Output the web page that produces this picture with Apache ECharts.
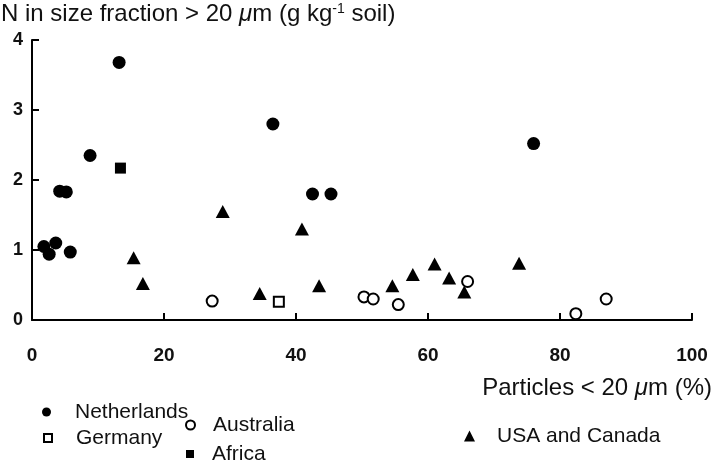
<!DOCTYPE html>
<html><head><meta charset="utf-8">
<script src="https://cdn.jsdelivr.net/npm/echarts@6/dist/echarts.min.js"></script>
<style>html,body{margin:0;padding:0;background:#fff}#c{width:720px;height:468px}</style>
</head><body><div id="c"></div>
<script>
// x: particles < 20 um (%), y: N in size fraction > 20 um (g/kg soil)
const netherlands = [[1.8,1.05],[2.6,0.94],[3.6,1.10],[4.2,1.84],[5.2,1.83],[5.8,0.97],[8.8,2.35],[13.2,3.68],[36.5,2.80],[42.5,1.80],[45.3,1.80],[76.0,2.52]];
const germany = [[37.4,0.26]];
const australia = [[27.3,0.27],[50.3,0.33],[51.7,0.30],[55.5,0.22],[66.0,0.55],[82.4,0.09],[87.0,0.30]];
const africa = [[13.4,2.17]];
const usaCanada = [[15.4,0.89],[16.8,0.52],[28.9,1.55],[34.5,0.38],[40.9,1.30],[43.5,0.49],[54.6,0.49],[57.7,0.65],[61.0,0.80],[63.2,0.60],[65.5,0.40],[73.8,0.81]];
const xTicks = [0,20,40,60,80,100];
const yTicks = [0,1,2,3,4];
const seriesNames = ['Netherlands','Germany','Australia','Africa','USA and Canada'];

const FONT = '"Liberation Sans", Arial, Helvetica, sans-serif';
const chart = echarts.init(document.getElementById('c'));
const axisCommon = {
  type:'value', splitLine:{show:false},
  axisLine:{show:true,onZero:false,lineStyle:{color:'#000',width:2}},
  axisTick:{show:true,inside:true,length:7,lineStyle:{color:'#000',width:2}}
};
function leg(name, left, top, size, padLeft){
  return {data:[name], left:left, top:top, padding:0, itemWidth:size, itemHeight:size,
    selectedMode:false,
    textStyle:{fontFamily:FONT,fontSize:21,color:'#111',lineHeight:22,padding:[0,0,0,padLeft]}};
}
const option = {
  backgroundColor:'#fff',
  animation:false,
  title:[
    {text:'N in size fraction > 20 {mu|μ}m (g kg{sup|-1} soil)', left:1, top:2, padding:0,
     textStyle:{fontFamily:FONT,fontSize:24,fontWeight:'normal',color:'#111',
       rich:{mu:{fontFamily:FONT,fontSize:24,fontStyle:'italic',color:'#111'},
             sup:{fontFamily:FONT,fontSize:14,color:'#111',verticalAlign:'top'}}}},
    {text:'Particles < 20 {mu|μ}m (%)', right:8, top:376, padding:0,
     textStyle:{fontFamily:FONT,fontSize:24,fontWeight:'normal',color:'#111',
       rich:{mu:{fontFamily:FONT,fontSize:24,fontStyle:'italic',color:'#111'}}}}
  ],
  grid:{left:32, right:28, top:40, bottom:148, containLabel:false},
  xAxis:Object.assign({}, axisCommon, {min:xTicks[0], max:xTicks[xTicks.length-1], interval:20,
    axisLabel:{margin:26,fontFamily:FONT,fontSize:19,fontWeight:'bold',color:'#111',
      formatter:v=>xTicks.includes(v)?String(v):''}}),
  yAxis:Object.assign({}, axisCommon, {min:yTicks[0], max:yTicks[yTicks.length-1], interval:1,
    axisLabel:{margin:9,fontFamily:FONT,fontSize:18,fontWeight:'bold',color:'#111',
      formatter:v=>yTicks.includes(v)?String(v):''}}),
  legend:[
    leg(seriesNames[0], 42, 401, 9, 19),
    leg(seriesNames[1], 43, 427, 8, 19),
    leg(seriesNames[2], 185, 414, 9, 13),
    leg(seriesNames[3], 186, 443, 8, 13),
    leg(seriesNames[4], 464, 425, 11, 17)
  ],
  series:[
    {name:seriesNames[0], type:'scatter', data:netherlands, symbol:'circle', symbolSize:13,
     itemStyle:{color:'#000',opacity:1}},
    {name:seriesNames[1], type:'scatter', data:germany, symbol:'rect', symbolSize:10,
     itemStyle:{color:'#fff',borderColor:'#000',borderWidth:2,opacity:1}},
    {name:seriesNames[2], type:'scatter', data:australia, symbol:'circle', symbolSize:11,
     itemStyle:{color:'#fff',borderColor:'#000',borderWidth:2,opacity:1}},
    {name:seriesNames[3], type:'scatter', data:africa, symbol:'rect', symbolSize:11,
     itemStyle:{color:'#000',opacity:1}},
    {name:seriesNames[4], type:'scatter', data:usaCanada, symbol:'triangle', symbolSize:[14,13],
     itemStyle:{color:'#000',opacity:1}}
  ]
};
chart.setOption(option);
</script>
</body></html>
